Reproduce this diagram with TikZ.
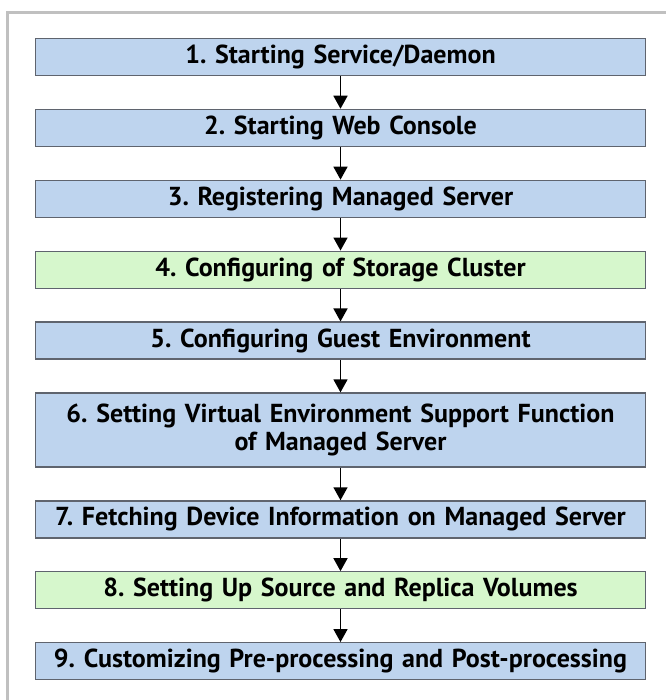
\documentclass[tikz,border=0pt]{standalone}
\usepackage{fontspec}
\setmainfont{PT Sans}
\frenchspacing
\usetikzlibrary{arrows.meta,positioning}

\definecolor{stepblue}{RGB}{190,212,238}
\definecolor{stepgreen}{RGB}{214,247,204}
\definecolor{stepline}{RGB}{95,100,110}
\definecolor{framegray}{RGB}{192,192,192}

\begin{document}
\begin{tikzpicture}[x=1pt, y=1pt, node distance=32.6pt,
		every node/.style={font=\fontsize{26}{28.5}\selectfont\bfseries},
		b/.style={draw=stepline, line width=1.3pt, fill=stepblue, minimum width=610pt, minimum height=37pt, text width=600pt, align=center, inner sep=0pt},
		g/.style={b, fill=stepgreen}]
	\useasboundingbox (0,0) rectangle (666,-700);
	% frame, only top and left edge are inside the picture
	\draw[framegray, line width=2.5pt] (7.5,-700) -- (7.5,-12.5) -- (666,-12.5);

	\node[b] (s1) at (340.5,-57) {1. Starting Service/Daemon};
	\node[b, below=of s1] (s2) {2. Starting Web Console};
	\node[b, below=of s2] (s3) {3. Registering Managed Server};
	\node[g, below=of s3] (s4) {4. Configuring of Storage Cluster};
	\node[b, below=of s4] (s5) {5. Configuring Guest Environment};
	\node[b, below=of s5, minimum height=74pt] (s6) {6. Setting Virtual Environment Support Function\\of Managed Server};
	\node[b, below=of s6] (s7) {7. Fetching Device Information on Managed Server};
	\node[g, below=of s7] (s8) {8. Setting Up Source and Replica Volumes};
	\node[b, below=of s8] (s9) {9. Customizing Pre-processing and Post-processing};
	\foreach \a/\b in {s1/s2, s2/s3, s3/s4, s4/s5, s5/s6, s6/s7, s7/s8, s8/s9}
		\draw[line width=1.6pt, -{Triangle[width=14pt, length=13pt]}] (\a) -- (\b);
\end{tikzpicture}
\end{document}
